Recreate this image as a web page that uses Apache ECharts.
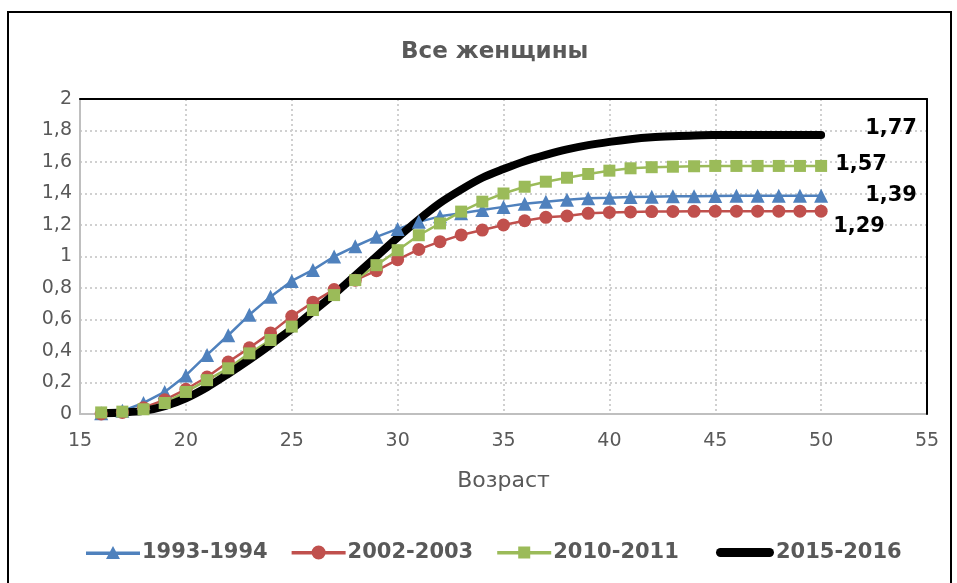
<!DOCTYPE html>
<html>
<head>
<meta charset="utf-8">
<script src="https://cdn.jsdelivr.net/npm/echarts@6/dist/echarts.min.js"></script>
<style>
  html, body { margin: 0; padding: 0; background: #fff; }
  #chart { width: 957px; height: 583px; }
</style>
</head>
<body>
<div id="chart"></div>
<script>
// ages 16..50
const ages = [16,17,18,19,20,21,22,23,24,25,26,27,28,29,30,31,32,33,34,35,36,37,38,39,40,41,42,43,44,45,46,47,48,49,50];

const s1993 = [0.005,0.02,0.07,0.14,0.245,0.375,0.50,0.63,0.745,0.845,0.915,1.0,1.065,1.125,1.175,1.22,1.255,1.275,1.295,1.315,1.335,1.348,1.36,1.37,1.373,1.377,1.38,1.382,1.383,1.384,1.385,1.385,1.385,1.385,1.385];
const s2002 = [0.0,0.01,0.04,0.09,0.157,0.235,0.33,0.42,0.515,0.62,0.71,0.79,0.85,0.91,0.98,1.045,1.094,1.137,1.168,1.2,1.227,1.249,1.257,1.274,1.28,1.283,1.285,1.286,1.287,1.288,1.288,1.288,1.288,1.288,1.288];
const s2010 = [0.01,0.015,0.03,0.07,0.14,0.215,0.29,0.385,0.47,0.555,0.66,0.755,0.85,0.945,1.04,1.135,1.21,1.285,1.348,1.40,1.443,1.475,1.50,1.524,1.545,1.56,1.567,1.57,1.573,1.575,1.575,1.575,1.575,1.575,1.575];
const s2015 = [0.005,0.01,0.02,0.05,0.10,0.17,0.255,0.345,0.44,0.54,0.65,0.76,0.88,1.0,1.12,1.235,1.34,1.425,1.50,1.555,1.605,1.645,1.68,1.707,1.728,1.745,1.757,1.764,1.769,1.771,1.772,1.772,1.772,1.772,1.772];

const seriesNames = ['1993-1994','2002-2003','2010-2011','2015-2016'];
const endLabels = ['1,39','1,29','1,57','1,77'];
const colors = ['#4F81BD', '#C0504D', '#9BBB59', '#000000'];

const font = 'DejaVu Sans';
const grey = '#595959';
const gridLine = { color: '#D0D0D0', width: 2, type: [2, 3] };

// legend icons: line + marker, like the spreadsheet legend
const legendIcons = [
  'path://M0,6.5h54v3.5h-54z M27,1 L34,14 L20,14 Z',
  'path://M0,6.5h54v3.5h-54z M20,8 a7,7 0 1,1 14,0 a7,7 0 1,1 -14,0 Z',
  'path://M0,6.5h54v3.5h-54z M21,2h12v12h-12z',
  'path://M4.5,0 H52.5 A4.5,4.5 0 0 1 52.5,9 H4.5 A4.5,4.5 0 0 1 4.5,0 Z'
];

function pairs(vals) { return ages.map((a, i) => [a, vals[i]]); }

const chart = echarts.init(document.getElementById('chart'));

const endLabelStyle = (txt, off) => ({
  show: true,
  formatter: () => txt,
  offset: off,
  color: '#000',
  fontFamily: font,
  fontWeight: 'bold',
  fontSize: 21
});

const legendText = { fontFamily: font, fontWeight: 'bold', fontSize: 21, color: grey, padding: [0, 0, 0, -3] };

chart.setOption({
  animation: false,
  backgroundColor: '#fff',
  graphic: [{
    type: 'rect',
    shape: { x: 8, y: 12, width: 943, height: 600 },
    style: { fill: null, stroke: '#000', lineWidth: 2 },
    silent: true
  }],
  title: {
    text: 'Все женщины',
    left: 396,
    top: 36,
    textStyle: { fontFamily: font, fontWeight: 'bold', fontSize: 23, color: grey }
  },
  grid: { left: 80, right: 30, top: 99, bottom: 169 },
  legend: [{
    left: 81,
    top: 537,
    itemWidth: 54,
    itemHeight: 16,
    itemGap: 24,
    textStyle: legendText,
    data: [0, 1, 2].map(i => ({ name: seriesNames[i], icon: legendIcons[i], itemStyle: { color: colors[i] } }))
  }, {
    left: 711,
    top: 537,
    itemWidth: 58,
    itemHeight: 16,
    textStyle: legendText,
    data: [{ name: seriesNames[3], icon: legendIcons[3], itemStyle: { color: colors[3] } }]
  }],
  xAxis: [{
    type: 'value',
    min: 15, max: 55, interval: 5,
    name: 'Возраст',
    nameLocation: 'middle',
    nameGap: 56,
    nameTextStyle: { fontFamily: font, fontSize: 22, color: grey },
    axisLine: { lineStyle: { color: '#BFBFBF', width: 2 } },
    axisTick: { show: false },
    axisLabel: { fontFamily: font, fontSize: 19, color: grey, margin: 18 },
    splitLine: { show: true, lineStyle: gridLine }
  }, {
    type: 'value', position: 'top', z: 5,
    min: 15, max: 55, interval: 5,
    axisLine: { show: true, onZero: false, lineStyle: { color: '#000', width: 2 } },
    axisTick: { show: false }, axisLabel: { show: false }, splitLine: { show: false }
  }],
  yAxis: [{
    type: 'value',
    min: 0, max: 2, interval: 0.2,
    axisLine: { show: true, lineStyle: { color: '#BFBFBF', width: 2 } },
    axisTick: { show: false },
    axisLabel: {
      fontFamily: font, fontSize: 19, color: grey, margin: 8,
      formatter: v => String(Math.round(v * 10) / 10).replace('.', ',')
    },
    splitLine: { lineStyle: gridLine }
  }, {
    type: 'value', position: 'right', z: 5,
    min: 0, max: 2, interval: 0.2,
    axisLine: { show: true, onZero: false, lineStyle: { color: '#000', width: 2 } },
    axisTick: { show: false }, axisLabel: { show: false }, splitLine: { show: false }
  }],
  series: [
    {
      name: seriesNames[0], type: 'line', data: pairs(s1993),
      symbol: 'triangle', symbolSize: 14,
      itemStyle: { color: colors[0] }, lineStyle: { color: colors[0], width: 2.5 },
      endLabel: endLabelStyle(endLabels[0], [36, 0])
    },
    {
      name: seriesNames[1], type: 'line', data: pairs(s2002),
      symbol: 'circle', symbolSize: 13,
      itemStyle: { color: colors[1] }, lineStyle: { color: colors[1], width: 2.5 },
      endLabel: endLabelStyle(endLabels[1], [4, 15])
    },
    {
      name: seriesNames[2], type: 'line', data: pairs(s2010),
      symbol: 'rect', symbolSize: 12,
      itemStyle: { color: colors[2] }, lineStyle: { color: colors[2], width: 2.5 },
      endLabel: endLabelStyle(endLabels[2], [6, -1])
    },
    {
      name: seriesNames[3], type: 'line', data: pairs(s2015),
      symbol: 'none', smooth: 0.3,
      itemStyle: { color: colors[3] }, lineStyle: { color: colors[3], width: 8, cap: 'round' },
      endLabel: endLabelStyle(endLabels[3], [36, -6])
    }
  ]
});
</script>
</body>
</html>
